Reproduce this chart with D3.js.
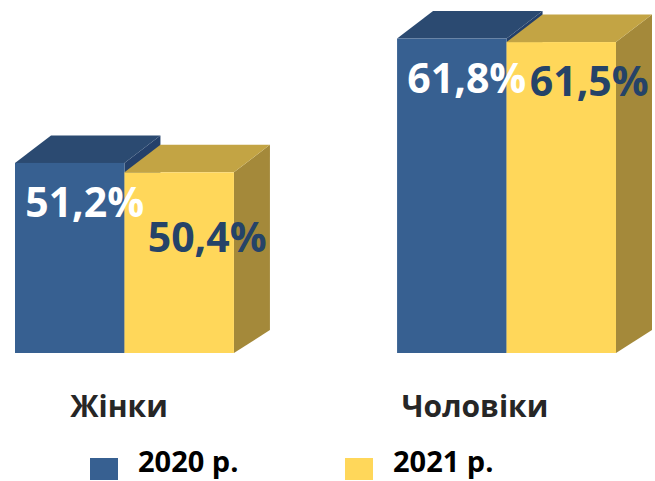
<!DOCTYPE html>
<html>
<head>
<meta charset="utf-8">
<script src="https://cdn.jsdelivr.net/npm/d3@7"></script>
<style>
  html, body { margin: 0; padding: 0; background: #fff; }
  svg { display: block; font-family: "Open Sans", "Noto Sans", sans-serif; }
</style>
</head>
<body>
<div id="chart"></div>
<script>
// --- Daten ---
const categories = ["Жінки", "Чоловіки"];
const series = ["2020 р.", "2021 р."];
const values2020 = [51.2, 61.8];
const values2021 = [50.4, 61.5];
const valueLabels2020 = ["51,2%", "61,8%"];
const valueLabels2021 = ["50,4%", "61,5%"];

// Farben je Serie: Vorderseite, Oberseite, Seitenfläche, Beschriftung
const colors = [
  { front: "#376091", top: "#2b4a71", side: "#24406a", label: "#ffffff" },
  { front: "#ffd75a", top: "#c3a444", side: "#a4893a", label: "#254368" }
];

const width = 655, height = 481;
const baseY = 353;
const depthX = 36, depthTopY = -27.5, depthBottomY = -23;

const svg = d3.select("#chart").append("svg")
  .attr("width", width)
  .attr("height", height);

// y-Skala beginnt bei 35 (wie im Original, nicht bei Null)
const y = d3.scaleLinear().domain([35, 65]).range([baseY, 1]);

const x0 = d3.scaleBand().domain(categories).range([15, 616]).paddingInner(0.427);
const x1 = d3.scaleBand().domain(series).range([0, x0.bandwidth()]);

// Tabelle aus den Arrays bauen
const rows = categories.map((c, i) => ({
  cat: c,
  bars: [
    { s: series[0], v: values2020[i], t: valueLabels2020[i], col: colors[0] },
    { s: series[1], v: values2021[i], t: valueLabels2021[i], col: colors[1] }
  ]
}));

const groups = svg.selectAll("g.grp").data(rows).enter().append("g")
  .attr("class", "grp")
  .attr("transform", d => `translate(${x0(d.cat)},0)`);

groups.each(function(row) {
  const g = d3.select(this);
  row.bars.forEach(b => {
    const xl = x1(b.s), xr = xl + x1.bandwidth(), yt = y(b.v);
    // Seitenfläche
    g.append("path")
      .attr("d", `M${xr},${baseY}L${xr + depthX},${baseY + depthBottomY}L${xr + depthX},${yt + depthTopY}L${xr},${yt}Z`)
      .attr("fill", b.col.side);
    // Oberseite
    g.append("path")
      .attr("d", `M${xl},${yt}L${xl + depthX},${yt + depthTopY}L${xr + depthX},${yt + depthTopY}L${xr},${yt}Z`)
      .attr("fill", b.col.top);
    // Vorderseite
    g.append("rect")
      .attr("x", xl).attr("y", yt)
      .attr("width", x1.bandwidth()).attr("height", baseY - yt)
      .attr("fill", b.col.front);
  });
});

// Wertebeschriftungen (eine wurde im Original manuell nach unten verschoben)
const labelDx = [15, 28];
const labelNudge = { "Жінки|2021 р.": 26 };
groups.each(function(row) {
  const g = d3.select(this);
  row.bars.forEach((b, j) => {
    g.append("text")
      .attr("x", x1(b.s) + x1.bandwidth() / 2 + labelDx[j])
      .attr("y", y(b.v) + 54 + (labelNudge[row.cat + "|" + b.s] || 0))
      .attr("text-anchor", "middle")
      .style("font-size", "41px")
      .style("font-weight", "bold")
      .attr("fill", b.col.label)
      .text(b.t);
  });
});

// Kategorienbeschriftungen
const xLab = d3.scalePoint().domain(categories).range([119, 475]);
svg.selectAll("text.cat").data(categories).enter().append("text")
  .attr("class", "cat")
  .attr("x", d => xLab(d))
  .attr("y", 417)
  .attr("text-anchor", "middle")
  .style("font-size", "30px")
  .style("font-weight", "bold")
  .attr("fill", "#262626")
  .text(d => d);

// Legende
const xLeg = d3.scalePoint().domain(series).range([90, 345]);
const leg = svg.selectAll("g.leg").data(series).enter().append("g")
  .attr("class", "leg")
  .attr("transform", d => `translate(${xLeg(d)},0)`);
leg.append("rect")
  .attr("x", 0).attr("y", 458)
  .attr("width", 28).attr("height", 22)
  .attr("fill", (d, i) => colors[i].front);
leg.append("text")
  .attr("x", 48).attr("y", 472)
  .style("font-size", "29px")
  .style("font-weight", "bold")
  .attr("fill", "#000")
  .text(d => d);
</script>
</body>
</html>
